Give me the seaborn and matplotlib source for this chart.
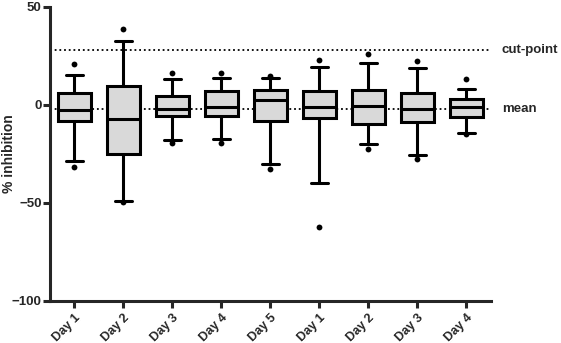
import matplotlib

matplotlib.use("Agg")
import matplotlib.pyplot as plt
import matplotlib.transforms as mtransforms
import numpy as np
import pandas as pd
import seaborn as sns

DAYS = ["Day 1", "Day 2", "Day 3", "Day 4", "Day 5", "Day 1", "Day 2", "Day 3", "Day 4"]
WHISK_LO = [-28.9, -49.1, -18.1, -17.6, -30.1, -39.8, -20.2, -25.5, -14.4]
Q1 = [-8.0, -25.1, -5.8, -5.8, -8.4, -6.7, -9.6, -8.5, -6.0]
MEDIAN = [-2.6, -7.2, -2.1, -1.0, 2.6, -1.2, -0.7, -2.2, -1.2]
Q3 = [6.0, 9.4, 4.6, 7.3, 7.7, 7.2, 7.7, 6.3, 2.9]
WHISK_HI = [15.5, 32.7, 13.3, 13.7, 13.7, 19.5, 21.5, 18.6, 7.9]
OUT_LO = [-31.6, -49.7, -19.3, -19.7, -32.8, -62.2, -22.7, -27.5, -14.8]
OUT_HI = [21.0, 38.8, 16.2, 16.1, 14.8, 23.1, 25.8, 22.2, 13.2]
CUT_POINT = 28.2
MEAN = -2.2

sns.set_style("ticks")
plt.rcParams["font.family"] = ["Liberation Sans", "DejaVu Sans"]
plt.rcParams["font.weight"] = "bold"

keys = [str(i) for i in range(len(DAYS))]
# five values per box -> min, q1, median, q3, max exactly
box_df = pd.DataFrame(
    {
        "group": np.repeat(keys, 5),
        "value": np.column_stack([WHISK_LO, Q1, MEDIAN, Q3, WHISK_HI]).ravel(),
    }
)
out_df = pd.DataFrame({"group": keys + keys, "value": OUT_LO + OUT_HI})

fig = plt.figure(figsize=(5.61, 3.43), dpi=100)
ax = fig.add_axes([0.0891, 0.1233, 0.7856, 0.8563])

sns.boxplot(
    data=box_df,
    x="group",
    y="value",
    order=keys,
    whis=(0, 100),
    width=0.67,
    color="#d9d9d9",
    saturation=1,
    linecolor="black",
    linewidth=2.2,
    fliersize=0,
    capwidths=0.35,
    ax=ax,
)
sns.stripplot(data=out_df, x="group", y="value", order=keys, jitter=False, color="black", size=4.2, ax=ax)

ax.axhline(CUT_POINT, color="black", ls=(0, (1, 1.6)), lw=1.3, zorder=0.5)
ax.axhline(MEAN, color="black", ls=(0, (1, 1.6)), lw=1.3, zorder=0.5)

trans = mtransforms.blended_transform_factory(ax.transAxes, ax.transData)
ax.text(1.025, CUT_POINT, "cut-point", transform=trans, va="center", ha="left", fontsize=9.5, fontweight="bold")
ax.text(1.025, MEAN, "mean", transform=trans, va="center", ha="left", fontsize=9.5, fontweight="bold")

ax.set_ylim(-100, 50)
ax.set_xlim(-0.5, 8.5)
ax.set_yticks([-100, -50, 0, 50])
ax.set_xticks(range(len(DAYS)))
ax.set_xticklabels(DAYS, rotation=45, ha="right", rotation_mode="anchor", fontsize=9, fontweight="bold")
ax.tick_params(axis="y", labelsize=9.5, width=2.2, length=5, pad=1)
ax.tick_params(axis="x", width=2.2, length=5, pad=3)
ax.set_xlabel("")
ax.set_ylabel("% inhibition", fontsize=10, fontweight="bold")
ax.yaxis.set_label_coords(-0.076, 0.5)

sns.despine(ax=ax)
for side in ("left", "bottom"):
    ax.spines[side].set_linewidth(2.2)

fig.savefig("out.png", dpi=100)
